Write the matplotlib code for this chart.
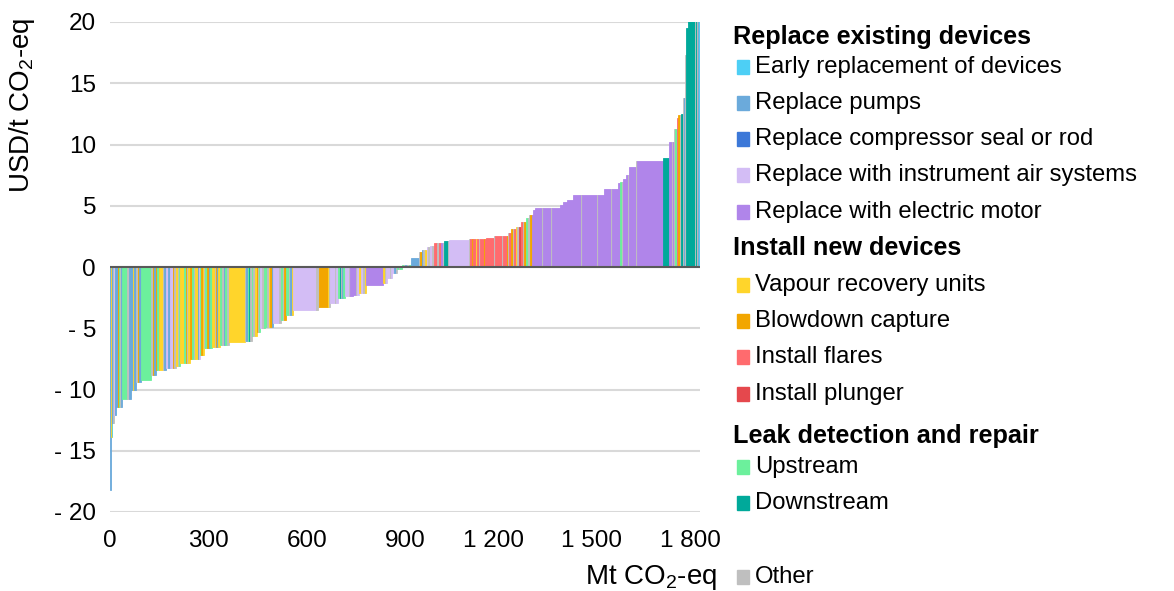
import matplotlib
matplotlib.use('Agg')
import matplotlib.pyplot as plt
from matplotlib.patches import Rectangle
from matplotlib.transforms import ScaledTranslation

plt.rcParams['font.family'] = ['Liberation Sans', 'DejaVu Sans']
plt.rcParams['mathtext.fontset'] = 'custom'
plt.rcParams['mathtext.rm'] = 'Liberation Sans'
plt.rcParams['mathtext.it'] = 'Liberation Sans:italic'

# abatement cost per step (USD/t CO2-eq) and what the step is made of (category + Mt)
step_cost = [
    -18.2, -13.9, -12.7, -12.1, -11.4, -10.8, -10.0, -9.4, -9.2, -8.8,
    -8.4, -8.25, -8.1, -7.85, -7.5, -7.2, -6.6, -6.5, -6.4, -6.1,
    -6.0, -5.6, -5.3, -5.0, -4.9, -4.6, -4.3, -3.9, -3.5, -3.25,
    -2.9, -2.55, -2.4, -2.3, -2.1, -1.5, -1.3, -0.9, -0.5, -0.15,
    0.15, 0.7, 1.2, 1.4, 1.6, 1.75, 2.0, 2.1, 2.2, 2.3,
    2.35, 2.5, 2.75, 3.1, 3.3, 3.7, 4.0, 4.25, 4.65, 4.8,
    5.05, 5.3, 5.45, 5.9, 6.4, 6.85, 6.9, 7.2, 7.5, 8.2,
    8.65, 8.9, 10.2, 11.3, 12.2, 12.4, 12.5, 13.8, 17.3, 19.5,
    22, 25,
]
step_mix = [
    "P3", "V2 E2", "P3 O3", "I3 P3", "P4 B3 U5 O3 P3",
    "U15 O5 P8", "P6 V3 P6", "O5 B3 P7", "U30", "O5 B5 P5",
    "B4 U5 D2 V10 O4 P5", "I8 P5 I8 B4 O5", "V8 O3 U4", "V12 U4 B4 O4 V6", "B5 U6 O4 V8 P4 I3",
    "U4 B4 V4", "O4 U6 B5 P4 U5", "V8 O4 B4 P4 V4", "U8 O5 P4 U6 O4", "V49",
    "O4 P5 U5 D2 O5", "U5 O5 V5", "B4 O4 U4", "I5 O5 U5", "U6 O5 V4 B4 P5",
    "I18 O6", "U5 O5 B5", "U8 O5 P4 V4", "I70 O6", "O5 B25 V3 O4",
    "I14 O4 I6", "U6 D3 O5 P3 U4", "I12 O5 M7", "M10 O5 I6", "V5 I6 O5 V5",
    "M52", "V4 O4 I4", "I8 O4 I3", "I6 P5 O4", "U5 O5 U5",
    "U5 O5 P5 O5 U7", "P24", "O4 B5", "P5 O5 V5", "I5 O4",
    "I6 O6", "F12 O4 F6 M6 O5", "D12 O3", "I60", "O4 F6 B3 F8 V3 F6 O5 F10 B3 F4",
    "F24", "O4 F20 O5 F10 B4", "O4 F5", "B5 O4 F6", "V5 O5 L5",
    "F6 O4 B5", "U6 O3", "O5 B5 M5", "M6", "M20 O3 M25 O3 M25",
    "M9", "M12", "M18", "M25 O3 M45 O3 M18", "M20 O3 M20",
    "M6", "U5 O4", "M9", "M5 O4", "M21",
    "O3 M79", "D18", "M12 O3 M3", "O3 U6", "F3",
    "B4 O5", "D6", "O3 P3", "O3", "D6",
    "D20 O3 D4", "O3 P3 E3",
]

groups = [
    ("Replace existing devices", ["E", "P", "C", "I", "M"]),
    ("Install new devices", ["V", "B", "F", "L"]),
    ("Leak detection and repair", ["U", "D"]),
]
names = {
    "E": "Early replacement of devices", "P": "Replace pumps",
    "C": "Replace compressor seal or rod", "I": "Replace with instrument air systems",
    "M": "Replace with electric motor", "V": "Vapour recovery units",
    "B": "Blowdown capture", "F": "Install flares", "L": "Install plunger",
    "U": "Upstream", "D": "Downstream", "O": "Other",
}
colors = {
    "E": "#4DCFF5", "P": "#6BAADB", "C": "#3C78D8", "I": "#D3BDF5",
    "M": "#B085EA", "V": "#FFD52B", "B": "#F2A600", "F": "#FF6B6E",
    "L": "#E5484D", "U": "#6CF09C", "D": "#00A99A", "O": "#BFBFBF",
}

fig = plt.figure(figsize=(11.74, 5.91), dpi=100)
ax = fig.add_axes([110 / 1174, 1 - 512 / 591, 590 / 1174, 490 / 591])

x = 0.0
for cost, mix in zip(step_cost, step_mix):
    for part in mix.split():
        cat, w = part[0], float(part[1:])
        ax.bar(x, cost, width=w, align='edge', color=colors[cat],
               edgecolor=colors[cat], linewidth=0.6)
        x += w

ax.set_xlim(0, 1800)
ax.set_ylim(-20, 20)
ax.set_xticks([0, 300, 600, 900, 1200, 1500, 1800])
ax.set_xticklabels(["0", "300", "600", "900", "1 200", "1 500", "1 800"])
ax.set_yticks(range(-20, 21, 5))
ax.set_yticklabels(["- 20", "- 15", "- 10", "- 5", "0", "5", "10", "15", "20"])
ax.tick_params(length=0, labelsize=17.5)
ax.tick_params(axis='x', pad=13)
ax.tick_params(axis='y', pad=10)
# the labels with a thousands space sit a little left of their tick
for lbl in ax.get_xticklabels()[4:]:
    lbl.set_transform(lbl.get_transform() + ScaledTranslation(-0.1, 0, fig.dpi_scale_trans))
for s in ax.spines.values():
    s.set_visible(False)
ax.set_axisbelow(True)
ax.yaxis.grid(True, color='#D9D9D9', linewidth=1.5)
ax.axhline(0, color='#595959', linewidth=1.5, zorder=3)

fig.text(22 / 1174, 1 - 18 / 591, "USD/t CO$_2$-eq", rotation=90, ha='center',
         va='top', fontsize=20)
fig.text(717 / 1174, 1 - 577 / 591, "Mt CO$_2$-eq", ha='right', va='center',
         fontsize=20)

# hand-built legend
def fy(py):
    return 1 - py / 591

header_y = [37, 248, 436]
item_y = [[67, 103, 139, 175, 212], [285, 321, 357, 394], [467, 503]]
for (title, cats), hy, ys in zip(groups, header_y, item_y):
    fig.text(733 / 1174, fy(hy), title, fontsize=18.2, fontweight='bold', va='center')
    for c, py in zip(cats, ys):
        fig.patches.append(Rectangle((737 / 1174, fy(py + 7)), 12 / 1174, 14 / 591,
                                     transform=fig.transFigure, color=colors[c]))
        fig.text(755 / 1174, fy(py), names[c], fontsize=17.2, va='center')
fig.patches.append(Rectangle((737 / 1174, fy(584)), 12 / 1174, 14 / 591,
                             transform=fig.transFigure, color=colors["O"]))
fig.text(755 / 1174, fy(577), names["O"], fontsize=17.2, va='center')

fig.savefig('out.png', dpi=100)
